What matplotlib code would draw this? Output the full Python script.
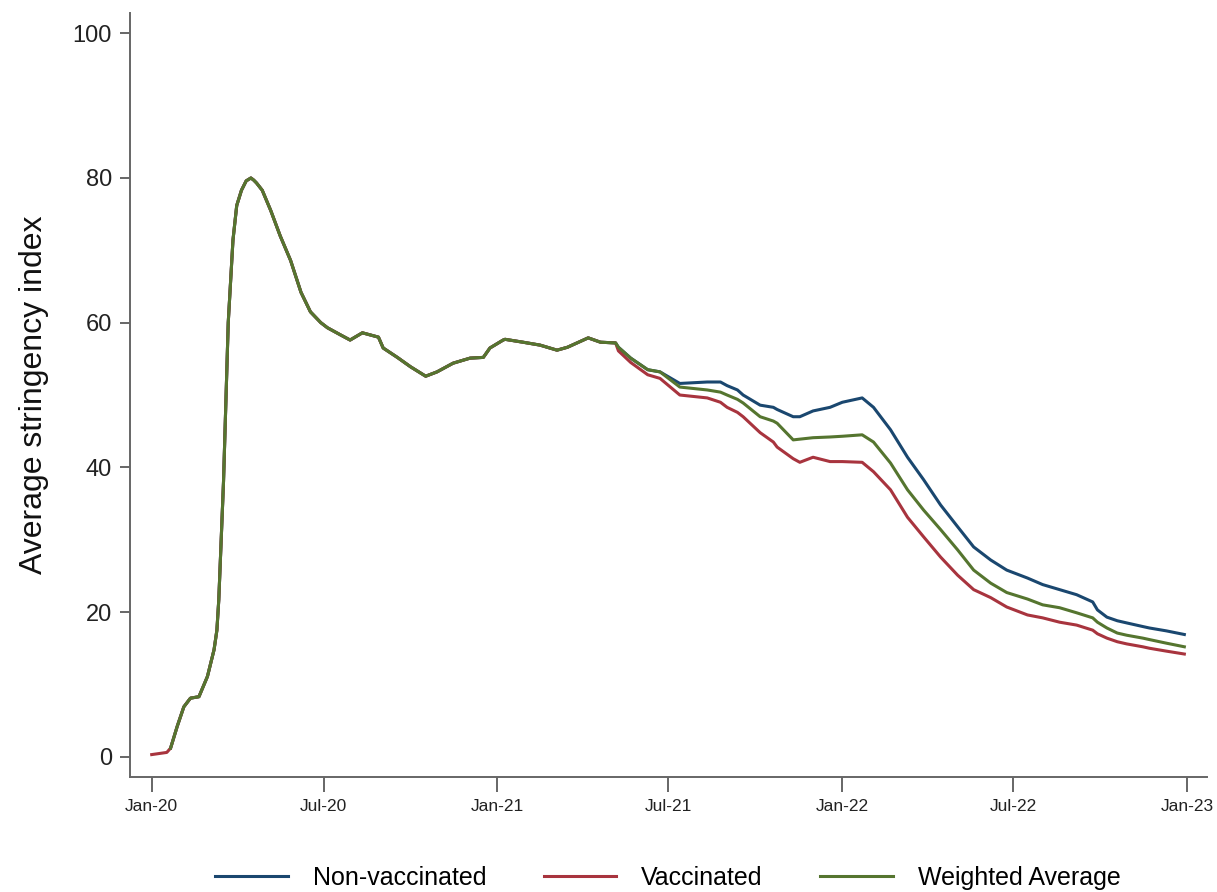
import matplotlib
matplotlib.use("Agg")
import matplotlib.pyplot as plt
import matplotlib.dates as mdates
import pandas as pd

plt.rcParams["font.family"] = ["Liberation Sans", "DejaVu Sans"]

# first days: only the vaccinated series is visible before the others start
early_dates = ["2020-01-01", "2020-01-17", "2020-01-21"]
early_vals = [0.3, 0.6, 1.2]

# period where all three series coincide
shared_dates = ["2020-01-21", "2020-01-28", "2020-02-04", "2020-02-11", "2020-02-20",
                "2020-02-29", "2020-03-07", "2020-03-10", "2020-03-12", "2020-03-17",
                "2020-03-22", "2020-03-27", "2020-03-31", "2020-04-05", "2020-04-10",
                "2020-04-15", "2020-04-18", "2020-04-21", "2020-04-27", "2020-05-06",
                "2020-05-16", "2020-05-27", "2020-06-07", "2020-06-17", "2020-06-28",
                "2020-07-05", "2020-07-19", "2020-07-29", "2020-08-11", "2020-08-28",
                "2020-09-02", "2020-09-17", "2020-10-01", "2020-10-17", "2020-10-29",
                "2020-11-15", "2020-12-03", "2020-12-17", "2020-12-24", "2021-01-07",
                "2021-01-09", "2021-01-28", "2021-02-15", "2021-03-05", "2021-03-16",
                "2021-04-07", "2021-04-20", "2021-05-06"]
shared_vals = [1.2, 4.2, 6.9, 8.1, 8.3,
               11.1, 14.8, 17.5, 21.7, 38.0,
               60.0, 71.4, 76.2, 78.3, 79.6,
               80.0, 79.7, 79.3, 78.3, 75.5,
               72.0, 68.6, 64.2, 61.5, 60.0,
               59.3, 58.3, 57.6, 58.6, 58.0,
               56.5, 55.2, 53.9, 52.6, 53.2,
               54.4, 55.1, 55.2, 56.5, 57.6,
               57.7, 57.3, 56.9, 56.2, 56.6,
               57.9, 57.3, 57.2]

# period where the series split
late_dates = ["2021-05-06", "2021-05-09", "2021-05-22", "2021-06-09", "2021-06-22",
              "2021-07-13", "2021-08-11", "2021-08-25", "2021-09-01", "2021-09-12",
              "2021-09-18", "2021-10-06", "2021-10-20", "2021-10-24", "2021-11-10",
              "2021-11-17", "2021-12-01", "2021-12-19", "2022-01-01", "2022-01-22",
              "2022-02-03", "2022-02-21", "2022-03-11", "2022-03-28", "2022-04-15",
              "2022-05-03", "2022-05-20", "2022-06-07", "2022-06-24", "2022-07-16",
              "2022-08-01", "2022-08-19", "2022-09-06", "2022-09-23", "2022-09-28",
              "2022-10-08", "2022-10-19", "2022-10-29", "2022-11-15", "2022-11-22",
              "2022-12-10", "2022-12-29"]
non_vacc = [57.2, 56.6, 55.1, 53.5, 53.2,
            51.6, 51.8, 51.8, 51.3, 50.7,
            50.0, 48.6, 48.3, 48.0, 47.0,
            47.0, 47.8, 48.3, 49.0, 49.6,
            48.3, 45.2, 41.4, 38.3, 34.8,
            31.8, 29.0, 27.2, 25.8, 24.7,
            23.8, 23.1, 22.4, 21.4, 20.3,
            19.3, 18.8, 18.5, 18.0, 17.8,
            17.4, 16.9]
vacc = [56.8, 56.1, 54.5, 52.8, 52.3,
        50.0, 49.6, 49.0, 48.3, 47.6,
        47.0, 44.8, 43.5, 42.8, 41.2,
        40.7, 41.4, 40.8, 40.8, 40.7,
        39.4, 36.9, 33.1, 30.4, 27.6,
        25.1, 23.1, 22.0, 20.7, 19.6,
        19.2, 18.6, 18.2, 17.5, 17.0,
        16.4, 15.9, 15.6, 15.2, 15.0,
        14.6, 14.2]
weighted = [57.2, 56.6, 55.1, 53.5, 53.2,
            51.1, 50.7, 50.4, 50.0, 49.4,
            48.9, 47.0, 46.4, 46.1, 43.8,
            43.9, 44.1, 44.2, 44.3, 44.5,
            43.5, 40.6, 36.9, 34.1, 31.4,
            28.6, 25.8, 24.0, 22.7, 21.8,
            21.0, 20.6, 19.9, 19.2, 18.6,
            17.8, 17.1, 16.8, 16.4, 16.2,
            15.7, 15.2]

blue = "#1a476f"
red = "#a8343e"
green = "#55752f"

d_early = pd.to_datetime(early_dates)
d_shared = pd.to_datetime(shared_dates)
d_late = pd.to_datetime(late_dates)

fig = plt.figure(figsize=(12.17, 8.92), dpi=100)
ax = fig.add_axes([0.1068, 0.1289, 0.885, 0.8565])

lw = 2.2
ax.plot(list(d_shared) + list(d_late[1:]), shared_vals + non_vacc[1:], color=blue, lw=lw,
        label="Non-vaccinated")
ax.plot(list(d_early) + list(d_shared[1:]) + list(d_late[1:]),
        early_vals + shared_vals[1:] + vacc[1:], color=red, lw=lw, label="Vaccinated")
ax.plot(list(d_shared) + list(d_late[1:]), shared_vals + weighted[1:], color=green, lw=lw,
        label="Weighted Average")

ax.set_xlim(pd.Timestamp("2019-12-09"), pd.Timestamp("2023-01-22"))
ax.set_ylim(-2.8, 102.8)
ax.set_yticks([0, 20, 40, 60, 80, 100])
ax.set_xticks(pd.to_datetime(["2020-01-01", "2020-07-01", "2021-01-01", "2021-07-01",
                              "2022-01-01", "2022-07-01", "2023-01-01"]))
ax.xaxis.set_major_formatter(mdates.DateFormatter("%b-%y"))

for s in ["top", "right"]:
    ax.spines[s].set_visible(False)
for s in ["left", "bottom"]:
    ax.spines[s].set_color("#666666")
    ax.spines[s].set_linewidth(1.4)

ax.tick_params(axis="y", length=7, width=1.4, color="#666666", pad=6,
               labelsize=17, labelcolor="#222222")
ax.tick_params(axis="x", length=11, width=1.4, color="#666666", pad=5,
               labelsize=12.5, labelcolor="#222222")

ax.set_ylabel("Average stringency index", fontsize=23, color="#111111", labelpad=17)

fig.legend(loc="center", bbox_to_anchor=(668 / 1217, 1 - 878 / 892), ncol=3,
           frameon=False, fontsize=18, handlelength=2.9, handletextpad=1.0,
           columnspacing=2.3)

fig.savefig("out.png", dpi=100)
